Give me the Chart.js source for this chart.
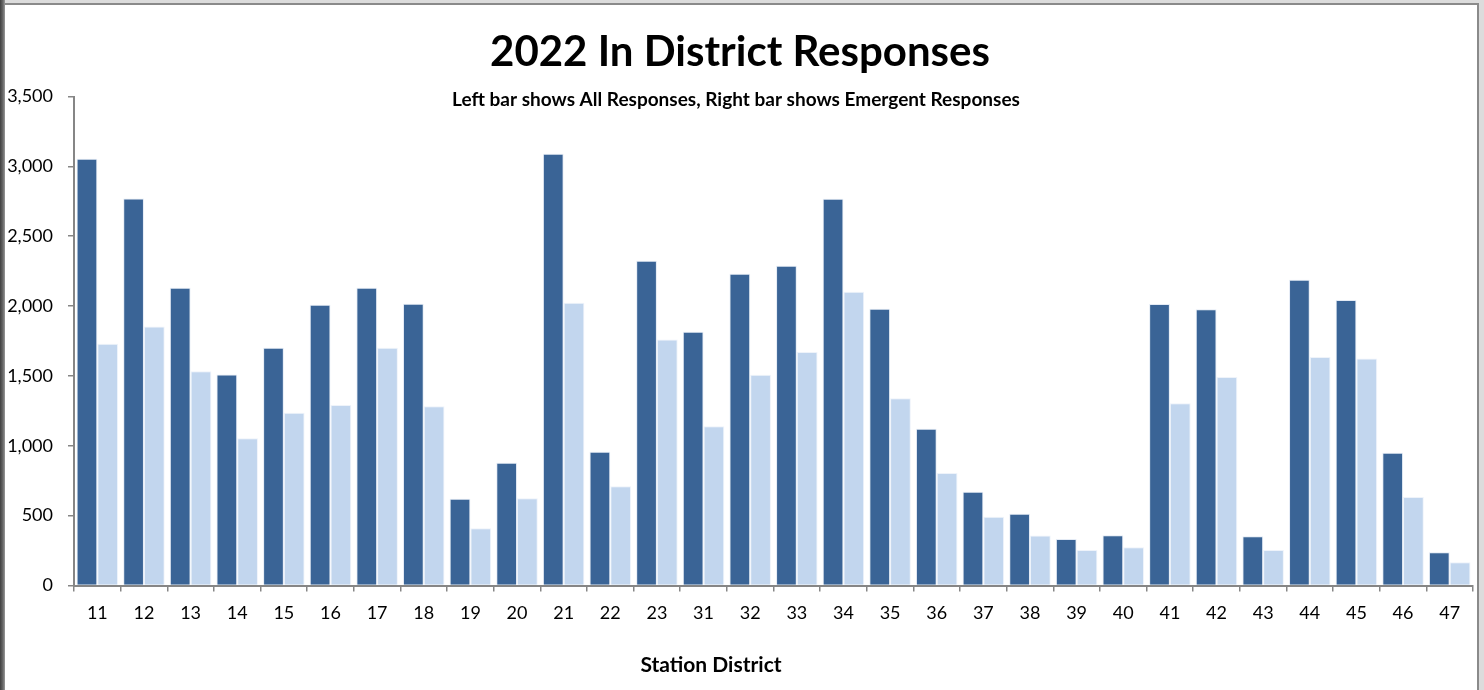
<!DOCTYPE html>
<html>
<head>
<meta charset="utf-8">
<script src="https://cdn.jsdelivr.net/npm/chart.js@4/dist/chart.umd.min.js"></script>
<style>
    html, body { margin: 0; padding: 0; }
    body { width: 1484px; height: 690px; background: #dcdcdc; position: relative; overflow: hidden; }
    #frame {
        position: absolute; left: 0; top: 3px; width: 1477px; height: 690px;
        background: #fff;
        border-top: 2px solid #8a8a8a;
        border-right: 2px solid #8a8a8a;
    }
    #edge {
        position: absolute; left: 0; top: 0; width: 5px; height: 690px;
        background: linear-gradient(to right, #3f3f3f, #6a6a6a 60%, #9a9a9a);
    }
    #chart { position: absolute; left: 0; top: 0; }
</style>
</head>
<body>
<div id="frame"></div>
<div id="edge"></div>
<canvas id="chart" width="1484" height="690"></canvas>
<script>
const districts = ['11', '12', '13', '14', '15', '16', '17', '18', '19', '20', '21', '22', '23',
    '31', '32', '33', '34', '35', '36', '37', '38', '39', '40', '41', '42', '43', '44', '45', '46', '47']
const allResponses = [3055, 2770, 2132, 1510, 1702, 2010, 2132, 2017, 621, 879, 3091, 958, 2325,
    1817, 2232, 2289, 2769, 1981, 1122, 671, 514, 333, 359, 2015, 1977, 352, 2189, 2044, 951, 238]
const emergentResponses = [1731, 1853, 1533, 1054, 1237, 1292, 1702, 1283, 409, 624, 2024, 710, 1760,
    1140, 1509, 1671, 2103, 1340, 805, 492, 357, 254, 273, 1304, 1493, 254, 1636, 1624, 634, 166]

const titleText = '2022 In District Responses'
const subtitleText = 'Left bar shows All Responses, Right bar shows Emergent Responses'
const xTitleText = 'Station District'

const fontFamily = 'Lato, "Open Sans", sans-serif'
const axisGray = '#868686'

// title, subtitle and axis title sit over the plot area, so draw them by hand
const textPlugin = {
    id: 'chartTexts',
    afterDraw(chart) {
        const ctx = chart.ctx
        ctx.save()
        ctx.fillStyle = '#000'
        ctx.textAlign = 'center'
        ctx.textBaseline = 'middle'
        ctx.font = 'bold 42px ' + fontFamily
        ctx.fillText(titleText, 740, 52)
        ctx.font = 'bold 19px ' + fontFamily
        ctx.fillText(subtitleText, 736, 100)
        ctx.font = 'bold 21px ' + fontFamily
        ctx.fillText(xTitleText, 711, 665)
        ctx.restore()
    }
}

const ctx = document.getElementById('chart').getContext('2d')
const chart = new Chart(ctx, {
    type: 'bar',
    data: {
        labels: districts,
        datasets: [{
            label: 'All Responses',
            data: allResponses,
            backgroundColor: '#3a6496',
            borderColor: 'rgba(225, 233, 244, 0.9)',
            borderWidth: 1
        }, {
            label: 'Emergent Responses',
            data: emergentResponses,
            backgroundColor: '#c2d6ee',
            borderColor: 'rgba(236, 242, 250, 0.9)',
            borderWidth: 1
        }]
    },
    options: {
        responsive: false,
        animation: false,
        layout: {
            padding: { top: 96.5, right: 11, bottom: 0, left: 0 }
        },
        datasets: {
            bar: {
                categoryPercentage: 0.89,
                barPercentage: 1
            }
        },
        plugins: {
            legend: { display: false },
            title: { display: false },
            tooltip: { enabled: false }
        },
        scales: {
            x: {
                afterFit(scale) { scale.height = 104.5 },
                border: { color: axisGray, width: 2 },
                grid: {
                    drawOnChartArea: false,
                    offset: true,
                    tickLength: 6,
                    color: axisGray,
                    lineWidth: 1.5
                },
                ticks: {
                    color: '#000',
                    padding: 11,
                    maxRotation: 0,
                    autoSkip: false,
                    font: { family: fontFamily, size: 18 }
                }
            },
            y: {
                min: 0,
                max: 3500,
                afterFit(scale) { scale.width = 74 },
                border: { color: axisGray, width: 2 },
                grid: {
                    drawOnChartArea: false,
                    tickLength: 6,
                    color: axisGray,
                    lineWidth: 1.5
                },
                ticks: {
                    stepSize: 500,
                    color: '#000',
                    padding: 15,
                    font: { family: fontFamily, size: 18 },
                    callback: (v) => v.toLocaleString('en-US')
                }
            }
        }
    },
    plugins: [textPlugin]
})
</script>
</body>
</html>
